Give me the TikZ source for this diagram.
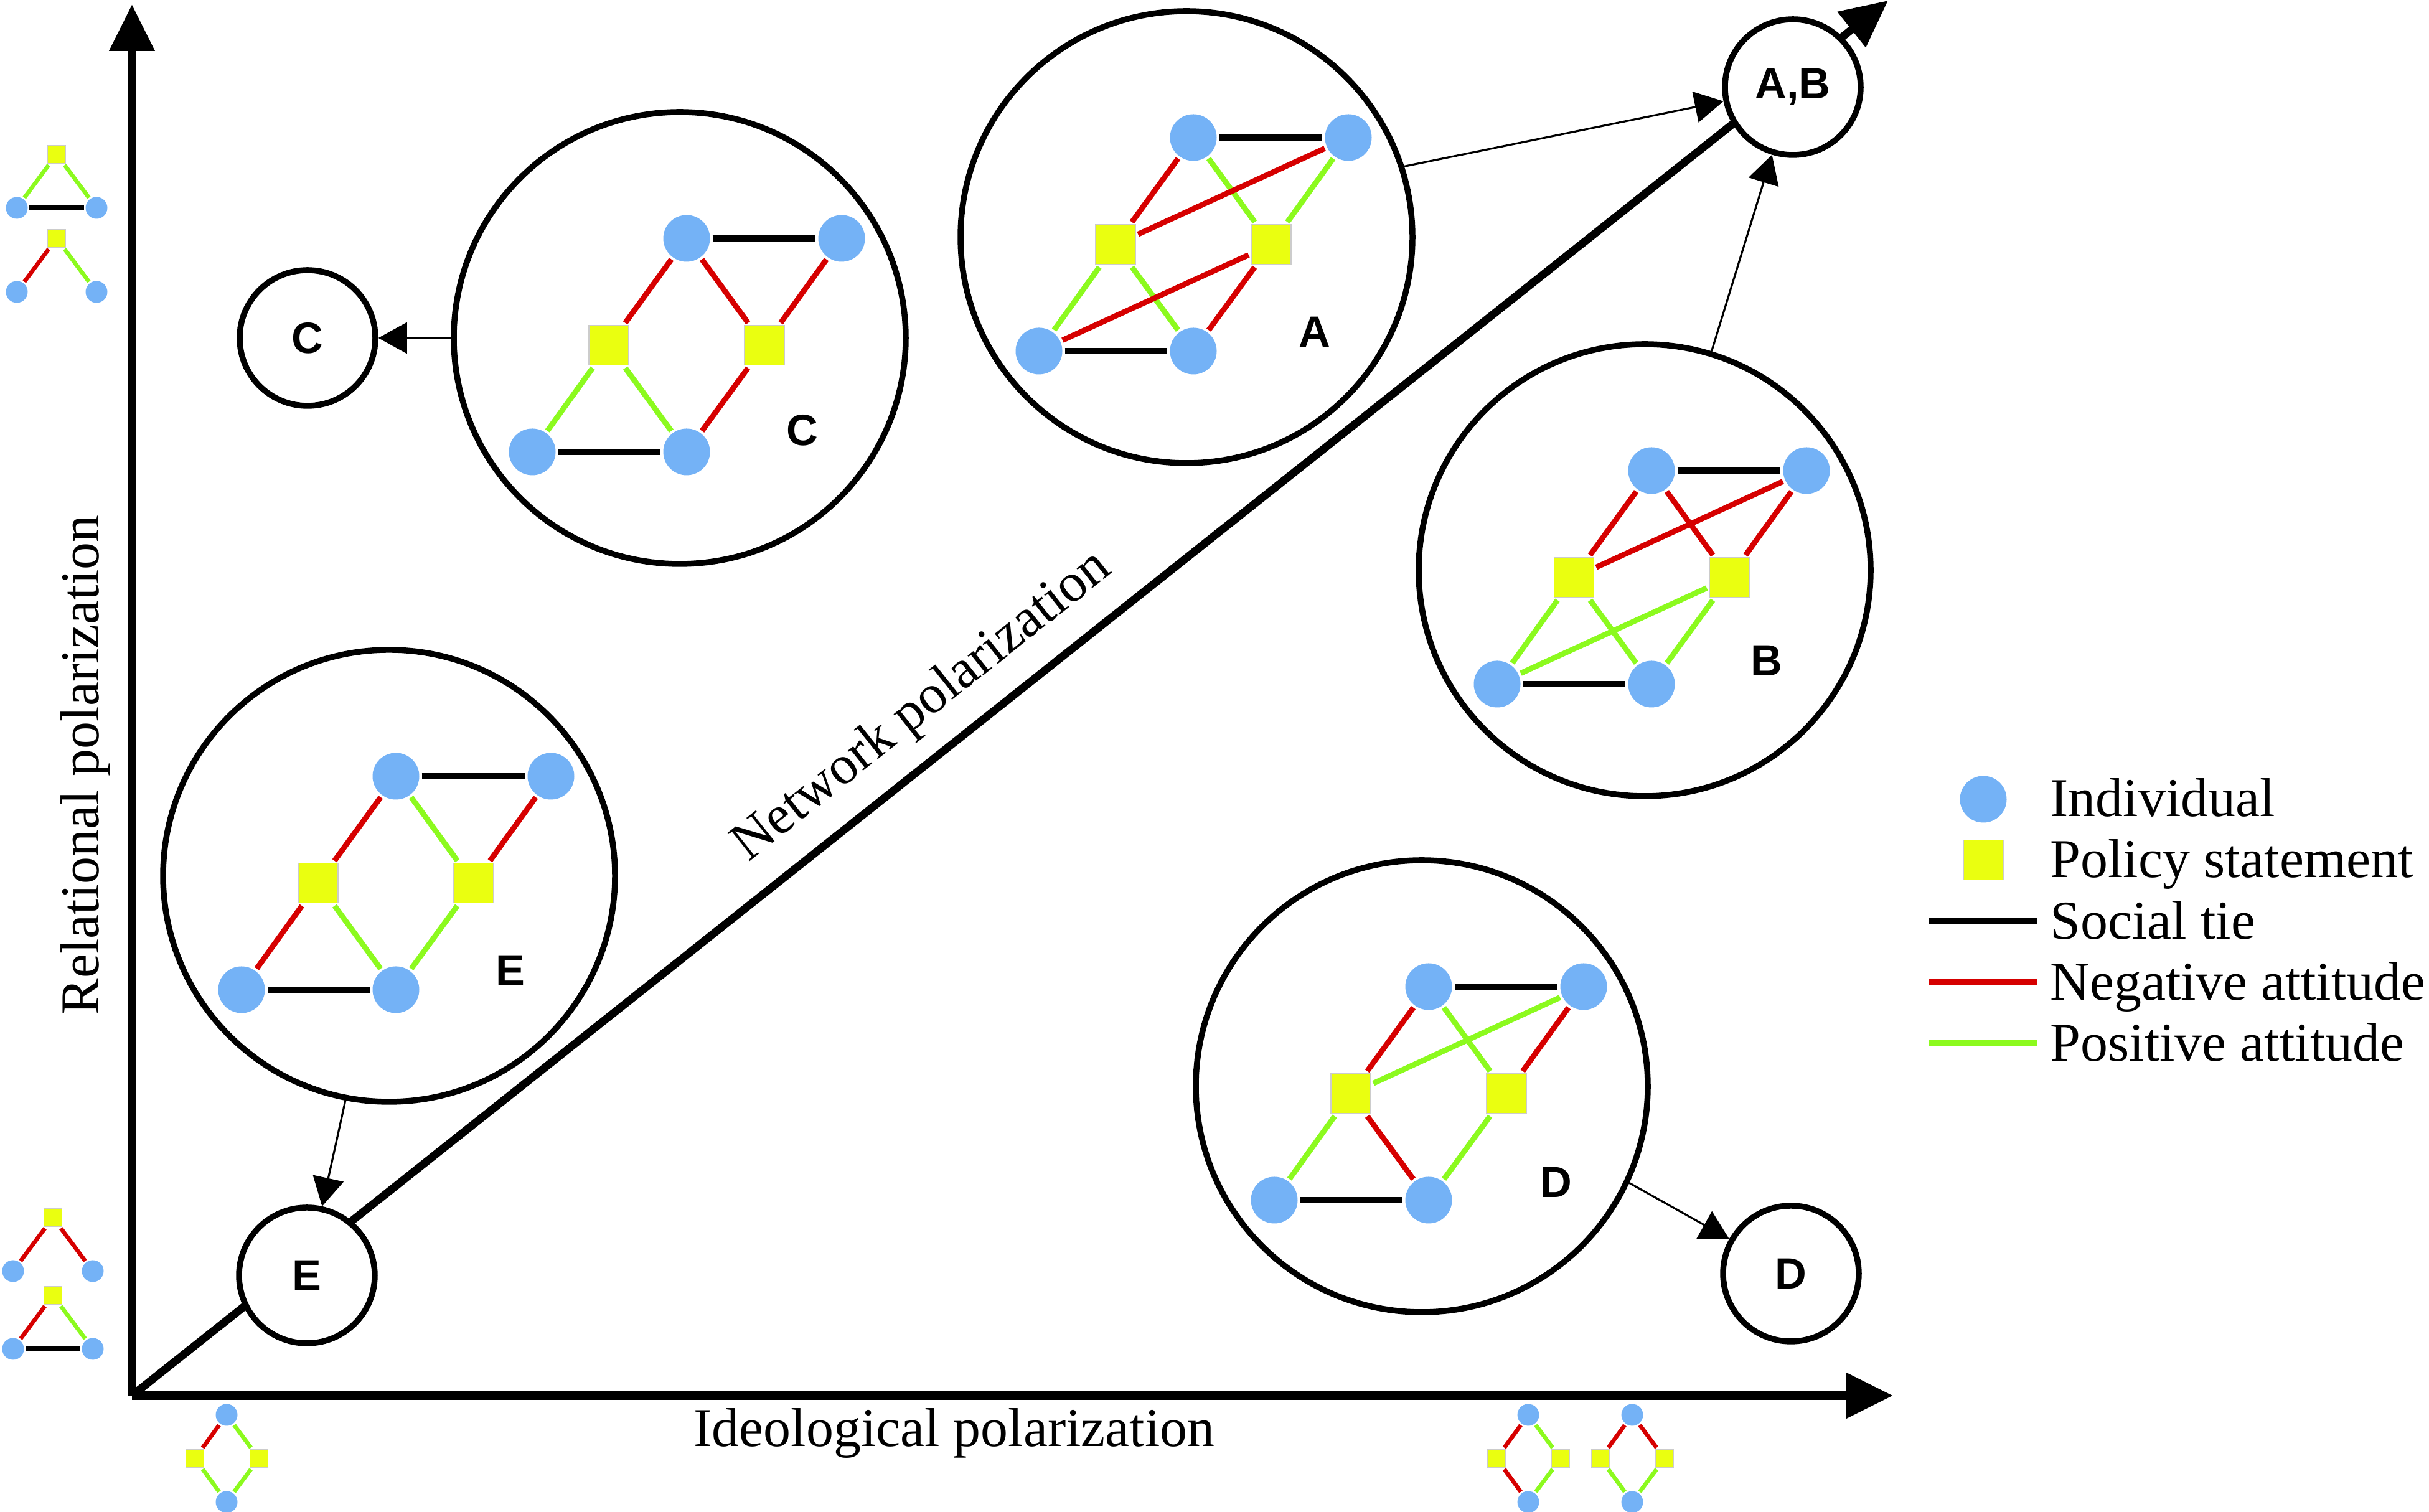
\documentclass[tikz,border=0pt]{standalone}
\usepackage{fontspec}
\setmainfont{Liberation Serif}
\setsansfont{Liberation Sans}
\usetikzlibrary{arrows.meta}
\usepackage{xcolor}
\definecolor{indivBlue}{RGB}{116,178,246}
\definecolor{policyYellow}{RGB}{234,255,16}
\definecolor{negRed}{RGB}{214,0,0}
\definecolor{posGreen}{RGB}{140,250,30}

% one network inside a big circle: #1 name prefix, #2 centre
\newcommand{\polnet}[2]{%
  \begin{scope}[shift={(#2)}]
    \node[indiv]  (#1TL) at (0.11,1.60) {};
    \node[indiv]  (#1TR) at (2.60,1.60) {};
    \node[policy] (#1PL) at (-1.14,-0.12) {};
    \node[policy] (#1PR) at (1.36,-0.12) {};
    \node[indiv]  (#1BL) at (-2.37,-1.83) {};
    \node[indiv]  (#1BR) at (0.11,-1.83) {};
  \end{scope}
  \draw[tieline] (#1TL) -- (#1TR);
  \draw[tieline] (#1BL) -- (#1BR);
}
% small triangle icon: square on top, two individuals below
\newcommand{\trinet}[2]{%
  \begin{scope}[shift={(#2)}]
    \node[minisq]  (#1P) at (0,0) {};
    \node[minidot] (#1L) at (-0.64,-0.86) {};
    \node[minidot] (#1R) at (0.64,-0.86) {};
  \end{scope}
}
% small diamond icon: individuals top and bottom, squares left and right
\newcommand{\dianet}[2]{%
  \begin{scope}[shift={(#2)}]
    \node[minidot] (#1T) at (0,0) {};
    \node[minisq]  (#1L) at (-0.51,-0.70) {};
    \node[minisq]  (#1R) at (0.52,-0.70) {};
    \node[minidot] (#1B) at (0,-1.40) {};
  \end{scope}
}

\begin{document}
\begin{tikzpicture}[
    bigcirc/.style={circle, draw, line width=2.7pt, fill=white, minimum size=7.26cm, inner sep=0pt},
    smallcirc/.style={circle, draw, line width=2.7pt, fill=white, minimum size=2.18cm, inner sep=0pt, font=\sffamily\bfseries\fontsize{20}{24}\selectfont},
    lettertag/.style={inner sep=0pt, font=\sffamily\bfseries\fontsize{20}{24}\selectfont},
    indiv/.style={circle, fill=indivBlue, minimum size=0.75cm, inner sep=0pt, outer sep=1.2pt},
    policy/.style={rectangle, fill=policyYellow, draw=black!20, line width=0.3pt, minimum size=0.64cm, inner sep=0pt, outer sep=1.2pt},
    minidot/.style={circle, fill=indivBlue, minimum size=0.35cm, inner sep=0pt, outer sep=0.8pt},
    minisq/.style={rectangle, fill=policyYellow, draw=black!20, line width=0.2pt, minimum size=0.29cm, inner sep=0pt, outer sep=0.8pt},
    tieline/.style={line width=2.8pt},
    negline/.style={negRed, line width=2.5pt},
    posline/.style={posGreen, line width=2.5pt},
    minitie/.style={line width=2.4pt},
    minineg/.style={negRed, line width=1.9pt},
    minipos/.style={posGreen, line width=1.9pt},
    axisline/.style={line width=4pt, -{Triangle[length=0.75cm, width=0.7cm]}},
    link/.style={->, line width=0.9pt},
    lbl/.style={inner sep=0pt, font=\fontsize{25}{30}\selectfont},
    >={Triangle[length=0.46cm, width=0.5cm]}
]
\useasboundingbox (0,0) rectangle (39.02,24.29);

% axes
\coordinate (O) at (2.12,1.87);
\coordinate (ytip) at (2.12,24.22);
\coordinate (xtip) at (30.41,1.87);
\coordinate (dtip) at (30.33,24.28);
\draw[axisline] (O) -- (ytip);
\draw[axisline] (O) -- (xtip);
\draw[axisline, line width=3.6pt] (O) -- (dtip);

\node[lbl, rotate=90] (ylab) at (1.37,12.00) {Relational polarization};
\node[lbl, anchor=base] (xlab) at (15.33,1.05) {Ideological polarization};
\node[lbl, rotate=38.5] (dlab) at (14.82,12.93) {Network polarization};

% big circles with their networks
\node[bigcirc] (Cbig) at (10.92,18.86) {};
\node[bigcirc] (Abig) at (19.06,20.48) {};
\node[bigcirc] (Bbig) at (26.42,15.13) {};
\node[bigcirc] (Dbig) at (22.84,6.84) {};
\node[bigcirc] (Ebig) at (6.25,10.22) {};

\polnet{c}{10.92,18.86}
\draw[posline] (cPL) -- (cBL);
\draw[posline] (cPL) -- (cBR);
\draw[negline] (cTL) -- (cPL);
\draw[negline] (cTL) -- (cPR);
\draw[negline] (cTR) -- (cPR);
\draw[negline] (cPR) -- (cBR);
\node[lettertag] (cLab) at (12.89,17.38) {C};

\polnet{a}{19.06,20.48}
\draw[posline] (aTL) -- (aPR);
\draw[posline] (aTR) -- (aPR);
\draw[posline] (aPL) -- (aBL);
\draw[posline] (aPL) -- (aBR);
\draw[negline] (aTL) -- (aPL);
\draw[negline] (aTR) -- (aPL);
\draw[negline] (aPR) -- (aBL);
\draw[negline] (aPR) -- (aBR);
\node[lettertag] (aLab) at (21.12,18.96) {A};

\polnet{b}{26.42,15.13}
\draw[negline] (bTL) -- (bPL);
\draw[negline] (bTR) -- (bPL);
\draw[negline] (bTL) -- (bPR);
\draw[negline] (bTR) -- (bPR);
\draw[posline] (bPL) -- (bBL);
\draw[posline] (bPL) -- (bBR);
\draw[posline] (bPR) -- (bBL);
\draw[posline] (bPR) -- (bBR);
\node[lettertag] (bLab) at (28.38,13.68) {B};

\polnet{d}{22.84,6.84}
\draw[negline] (dTL) -- (dPL);
\draw[negline] (dTR) -- (dPR);
\draw[negline] (dPL) -- (dBR);
\draw[posline] (dTL) -- (dPR);
\draw[posline] (dTR) -- (dPL);
\draw[posline] (dPL) -- (dBL);
\draw[posline] (dPR) -- (dBR);
\node[lettertag] (dLab) at (25.00,5.30) {D};

\polnet{e}{6.25,10.22}
\draw[negline] (eTL) -- (ePL);
\draw[negline] (eTR) -- (ePR);
\draw[negline] (ePL) -- (eBL);
\draw[posline] (eTL) -- (ePR);
\draw[posline] (ePL) -- (eBR);
\draw[posline] (ePR) -- (eBR);
\node[lettertag] (eLab) at (8.20,8.70) {E};

% small outcome circles
\node[smallcirc] (Csmall) at (4.94,18.86) {C};
\node[smallcirc] (AB) at (28.80,22.89) {A,B};
\node[smallcirc] (Dsmall) at (28.77,3.83) {D};
\node[smallcirc] (Esmall) at (4.93,3.80) {E};

\draw[link] (Cbig) -- (Csmall);
\draw[link] (Abig.18) -- (AB);
\draw[link] (Bbig.73) -- (AB);
\draw[link] (Dbig.-25) -- (Dsmall);
\draw[link] (Ebig.259) -- (Esmall);

% legend
\node[indiv] (kInd) at (31.86,11.45) {};
\node[policy] (kPol) at (31.86,10.47) {};
\coordinate (kTieA) at (30.99,9.50);
\coordinate (kTieB) at (32.73,9.50);
\coordinate (kNegA) at (30.99,8.51);
\coordinate (kNegB) at (32.73,8.51);
\coordinate (kPosA) at (30.99,7.53);
\coordinate (kPosB) at (32.73,7.53);
\draw[tieline, line width=2.9pt] (kTieA) -- (kTieB);
\draw[negline, line width=2.6pt] (kNegA) -- (kNegB);
\draw[posline, line width=2.6pt] (kPosA) -- (kPosB);
\node[lbl, anchor=base west] (kIndTxt) at (32.93,11.17) {Individual};
\node[lbl, anchor=base west] (kPolTxt) at (32.93,10.19) {Policy statement};
\node[lbl, anchor=base west] (kTieTxt) at (32.93,9.20) {Social tie};
\node[lbl, anchor=base west] (kNegTxt) at (32.93,8.22) {Negative attitude};
\node[lbl, anchor=base west] (kPosTxt) at (32.93,7.24) {Positive attitude};

% icons along the axes
\trinet{t1}{0.91,21.81}
\draw[minitie] (t1L) -- (t1R);
\draw[minipos] (t1P) -- (t1L);
\draw[minipos] (t1P) -- (t1R);
\trinet{t2}{0.91,20.46}
\draw[minineg] (t2P) -- (t2L);
\draw[minipos] (t2P) -- (t2R);
\trinet{t3}{0.85,4.73}
\draw[minineg] (t3P) -- (t3L);
\draw[minineg] (t3P) -- (t3R);
\trinet{t4}{0.85,3.48}
\draw[minitie] (t4L) -- (t4R);
\draw[minineg] (t4P) -- (t4L);
\draw[minipos] (t4P) -- (t4R);

\dianet{d1}{3.64,1.56}
\draw[minineg] (d1T) -- (d1L);
\draw[minipos] (d1T) -- (d1R);
\draw[minipos] (d1L) -- (d1B);
\draw[minipos] (d1R) -- (d1B);
\dianet{d2}{24.55,1.56}
\draw[minineg] (d2T) -- (d2L);
\draw[minipos] (d2T) -- (d2R);
\draw[minineg] (d2L) -- (d2B);
\draw[minipos] (d2R) -- (d2B);
\dianet{d3}{26.22,1.56}
\draw[minineg] (d3T) -- (d3L);
\draw[minineg] (d3T) -- (d3R);
\draw[minipos] (d3L) -- (d3B);
\draw[minipos] (d3R) -- (d3B);
\end{tikzpicture}
\end{document}
